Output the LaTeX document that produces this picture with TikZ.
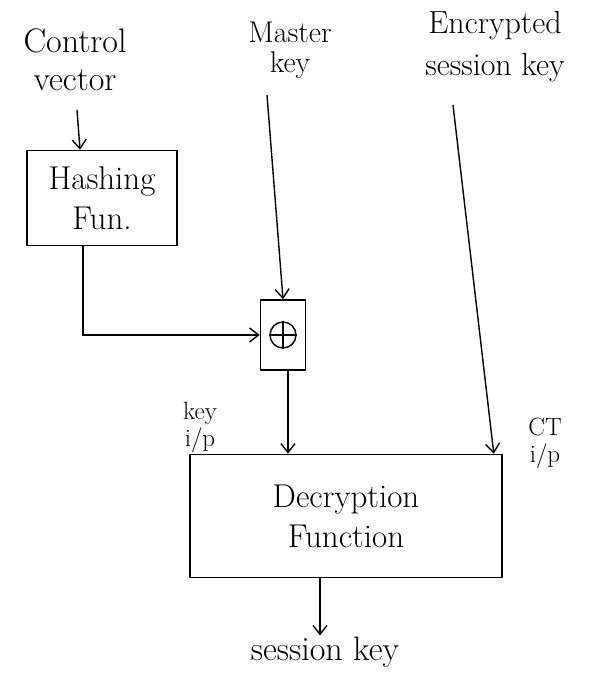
\documentclass[tikz,border=0pt]{standalone}
\usetikzlibrary{arrows.meta,calc}
\begin{document}
\begin{tikzpicture}[x=1pt,y=-1pt,
  big/.style={font=\fontsize{34}{38}\selectfont},
  mid/.style={font=\fontsize{33}{40}\selectfont},
  small/.style={font=\fontsize{25}{27}\selectfont},
  lbl/.style={align=center, inner sep=1pt},
  blk/.style={draw, line width=1.6pt, inner sep=0pt},
  conn/.style={line width=1.4pt, -{Straight Barb[length=9pt,width=14pt,line width=1.4pt]}}]
\useasboundingbox (0,0) rectangle (597,697);
% text labels
\node[lbl, font=\fontsize{34}{38}\selectfont] (cv) at (75,60) {Control\\vector};
\node[lbl, font=\fontsize{30}{30}\selectfont] (mk) at (290,50) {Master\\key};
\node[lbl, font=\fontsize{32}{42}\selectfont] (esk) at (495,47) {Encrypted\\session key};
\node[lbl, small] (kip) at (200,427) {key\\i/p};
\node[lbl, small] (ctip) at (545,443) {CT\\i/p};
\node[lbl, big] (sk) at (325,652) {session key};
% start points of the inputs
\coordinate (cvs) at (77,110);
\coordinate (mks) at (267,95);
\coordinate (esks) at (453,105);
% blocks
\node[blk, minimum width=150pt, minimum height=95pt, align=center, mid] (hash) at (102,198) {Hashing\\Fun.};
\node[blk, minimum width=45pt, minimum height=70pt] (xor) at (283,335) {};
\node[draw, circle, line width=1.4pt, minimum size=26pt, inner sep=0pt] (xc) at (xor.center) {};
\draw[line width=1.4pt] (xc.north) -- (xc.south) (xc.west) -- (xc.east);
\node[blk, minimum width=312pt, minimum height=123pt, align=center, mid] (dec) at (346,516) {Decryption\\Function};
% connectors
\draw[conn] (cvs) -- ([xshift=-22pt]hash.north);
\draw[conn] ([xshift=-19pt]hash.south) |- (xor.west);
\draw[conn] (mks) -- (xor.north);
\draw[conn] (esks) -- ([xshift=-9pt]dec.north east);
\draw[conn] ([xshift=5pt]xor.south) -- ([xshift=5pt]xor.south |- dec.north);
\draw[conn] ([xshift=-26pt]dec.south) -- ([xshift=-26pt]dec.south |- sk.north);
\end{tikzpicture}
\end{document}
